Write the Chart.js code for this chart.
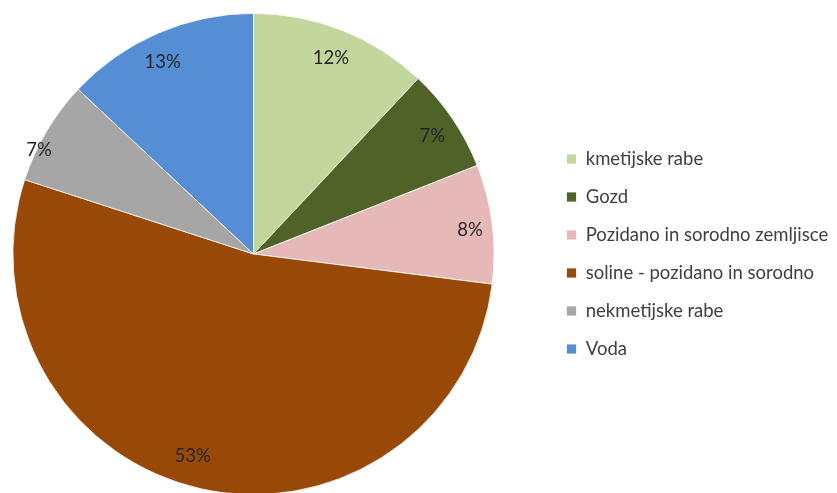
<!DOCTYPE html>
<html>
<head>
<meta charset="utf-8">
<script src="https://cdn.jsdelivr.net/npm/chart.js@4"></script>
<style>
  html, body { margin: 0; padding: 0; background: #fff; overflow: hidden; }
  #wrap { position: relative; width: 837px; height: 493px; overflow: hidden; }
  #box { position: absolute; top: 0; height: 495px; }
</style>
</head>
<body>
<div id="wrap"><div id="box"><canvas id="c"></canvas></div></div>
<script>
const categories = ["kmetijske rabe", "Gozd", "Pozidano in sorodno zemljisce", "soline - pozidano in sorodno", "nekmetijske rabe", "Voda"];
const percentages = [12, 7, 8, 53, 7, 13];
const sliceColors = ["#C3D69B", "#4F6228", "#E6B9B8", "#984807", "#A6A6A6", "#558ED5"];

const FONT = "Lato, 'Open Sans', sans-serif";
const FS = 18.5;          // legend / label font size
const LPAD = 19.5;        // legend item padding
const BOXW = 10;
const PIE_CX = 253;       // desired pie centre (page px)
const LEG_BOX_X = 566;    // desired legend swatch x (page px)

// label placement inside each slice (radial factor, fraction along the arc) - styling only
const LABEL_RADIAL = [0.874, 0.89, 0.906, 0.876, 0.99, 0.884];
const LABEL_ALONG  = [0.5, 0.53, 0.53, 0.522, 0.31, 0.46];

// layout computation: shift canvas so the pie centre and legend land where wanted
const mctx = document.createElement('canvas').getContext('2d');
mctx.font = FS + "px " + FONT;
const maxText = Math.max(...categories.map(t => mctx.measureText(t).width));
const legendW = LPAD + BOXW + FS / 2 + maxText + 10;
const legendLeftPage = LEG_BOX_X - LPAD;
const offset = 2 * PIE_CX - legendLeftPage;          // canvas left in page coords (negative)
const canvasW = 845 - offset;
const padRight = canvasW - legendW - (legendLeftPage - offset);
const boxEl = document.getElementById('box');
boxEl.style.left = offset + "px";
boxEl.style.width = canvasW + "px";

const labelPlugin = {
  id: 'sliceLabels',
  afterDatasetsDraw(chart) {
    const ctx = chart.ctx;
    const meta = chart.getDatasetMeta(0);
    ctx.save();
    ctx.font = FS + "px " + FONT;
    ctx.fillStyle = "#262626";
    ctx.textAlign = "center";
    ctx.textBaseline = "middle";
    meta.data.forEach((arc, i) => {
      const p = arc.getProps(['startAngle', 'endAngle', 'outerRadius', 'x', 'y'], true);
      const a = p.startAngle + (p.endAngle - p.startAngle) * LABEL_ALONG[i];
      const r = p.outerRadius * LABEL_RADIAL[i];
      ctx.fillText(chart.data.datasets[0].data[i] + "%", p.x + Math.cos(a) * r, p.y + Math.sin(a) * r);
    });
    ctx.restore();
  }
};

new Chart(document.getElementById('c'), {
  type: 'pie',
  data: {
    labels: categories,
    datasets: [{
      data: percentages,
      backgroundColor: sliceColors,
      borderColor: "#ffffff",
      borderWidth: 0.8
    }]
  },
  options: {
    responsive: true,
    maintainAspectRatio: false,
    animation: false,
    layout: { padding: { top: 13, right: padRight, bottom: 0, left: 0 } },
    plugins: {
      legend: {
        position: 'right',
        align: 'center',
        labels: {
          boxWidth: BOXW,
          boxHeight: 10,
          padding: LPAD,
          color: "#404040",
          font: { size: FS, family: FONT }
        }
      },
      tooltip: { enabled: false }
    }
  },
  plugins: [labelPlugin]
});
</script>
</body>
</html>
